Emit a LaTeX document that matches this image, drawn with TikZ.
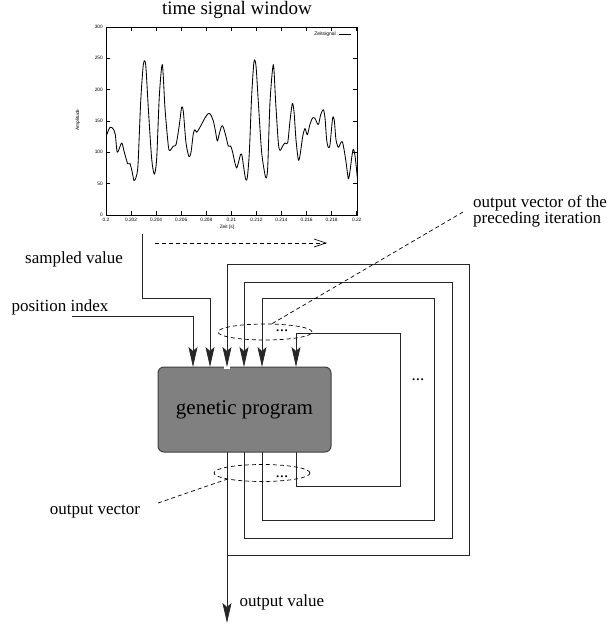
\documentclass[tikz,border=0pt]{standalone}
\usepackage{fontspec}
\setmainfont{Liberation Serif}
\setsansfont{Liberation Sans}
\usetikzlibrary{arrows.meta,shapes.geometric,calc}
\begin{document}
\begin{tikzpicture}[x=1pt,y=-1pt,
  wire/.style={line width=0.8pt, draw=black!85},
  inarrow/.style={wire, -{Stealth[length=20pt,width=9pt,inset=4pt]}},
  lbl/.style={font=\fontsize{17}{16}\selectfont, inner sep=0pt},
  dsh/.style={dash pattern=on 4pt off 3pt, line width=0.7pt},
  tick/.style={font=\fontsize{4.8}{6}\sffamily, inner sep=0pt}]
\useasboundingbox (0,0) rectangle (609,626);

% ---------- plot ----------
\node[font=\fontsize{19}{20}\selectfont, inner sep=0pt] (title) at (237,10) {time signal window};
\draw[line width=0.6pt] (106,27) rectangle (357,215);
\foreach \v [count=\i from 0] in {0,50,100,150,200,250,300} {
  \draw[line width=0.5pt] (106,215-0.6267*\v) -- ++(4,0);
  \draw[line width=0.5pt] (357,215-0.6267*\v) -- ++(-4,0);
  \node[tick, anchor=east] (yt\i) at (103,215-0.6267*\v) {\v};
}
\foreach \l [count=\i from 0] in {0.2,0.202,0.204,0.206,0.208,0.21,0.212,0.214,0.216,0.218,0.22} {
  \draw[line width=0.5pt] (106+25.07*\i,215) -- ++(0,-4);
  \draw[line width=0.5pt] (106+25.07*\i,27) -- ++(0,4);
  \node[tick] (xt\i) at (106+25.07*\i,220) {\l};
}
\node[tick, rotate=90] (ylab) at (78,120) {Amplitude};
\node[tick] (xlab) at (227,227) {Zeit [s]};
\node[tick, anchor=east, font=\fontsize{5}{6}\sffamily] (leg) at (336,34) {Zeitsignal};
\coordinate (lg1) at (339,34);
\coordinate (lg2) at (351,34);
\draw[line width=0.7pt] (lg1) -- (lg2);
\begin{scope}
\clip (106,27) rectangle (357,215);
\begin{scope}[shift={(60pt,-215pt)}, x=0.33333pt, y=0.6267pt]
\draw[line width=0.85pt, line join=round] plot[smooth, tension=0.45] coordinates {
(138,125) (150,140) (160,137) (166,128) (172,100) (185,115) (193,100) (203,82) (210,82) (216,70) (222,55) (228,60) (234,80) (242,180) (250,240) (257,240) (265,170) (275,90) (283,65) (290,90) (298,190) (307,240) (315,170) (325,110) (330,103) (340,110) (348,112) (357,140) (365,172) (370,165) (378,115) (387,93) (393,100) (400,130) (405,136) (410,132) (420,140) (435,155) (445,162) (452,160) (460,150) (466,135) (472,118) (478,130) (485,142) (490,140) (498,125) (505,110) (512,110) (518,100) (524,85) (530,75) (536,85) (542,97) (546,95) (550,80) (557,57) (562,60) (568,100) (575,190) (582,245) (588,238) (595,180) (605,100) (617,60) (623,75) (630,180) (640,240) (647,180) (655,115) (660,103) (668,110) (675,115) (683,115) (690,150) (697,178) (702,165) (708,120) (715,88) (720,95) (728,125) (735,138) (742,128) (750,145) (758,155) (765,154) (772,146) (776,145) (782,160) (790,168) (795,155) (800,120) (805,108) (810,112) (818,155) (823,150) (828,120) (835,108) (842,115) (847,117) (852,105) (858,85) (865,58) (870,70) (876,95) (880,105) (885,95) (892,60)};
\end{scope}
\end{scope}

% window shift arrow
\coordinate (wa) at (155,243);
\coordinate (wb) at (327,243);
\draw[dsh, -{Straight Barb[length=12pt,width=8pt]}] (wa) -- (wb);

% ---------- genetic program ----------
\node[draw=black!75, fill=black!50, rounded corners=6pt, line width=1pt,
      minimum width=173pt, minimum height=85pt, inner sep=0pt,
      font=\fontsize{21}{24}\selectfont] (gp) at (244.5,409.5) {genetic program};
\fill[white] (224,365.6) rectangle (230,369);

% input coordinates on box top
\coordinate (in0) at (193,367);
\coordinate (ins) at (210,367);
\coordinate (in1) at (227,367);
\coordinate (in2) at (244,367);
\coordinate (in3) at (262,367);
\coordinate (in4) at (296,367);
% outputs on box bottom
\coordinate (ob1) at (227,452);
\coordinate (ob2) at (244,452);
\coordinate (ob3) at (262,452);
\coordinate (ob4) at (296,452);

% labels
\node[lbl] (sv) at (74,259) {sampled value};
\node[lbl] (pi) at (60,307) {position index};
\node[lbl, align=left, anchor=west] (ovp) at (473,211) {output vector of the\\preceding iteration};
\node[lbl] (ov) at (95,512) {output vector};
\node[lbl] (oval) at (282,602) {output value};

% sampled value
\coordinate (sv0) at (142,234);
\coordinate (sv1) at (142,298);
\draw[inarrow] (sv0) -- (sv1) -| (ins);
% position index
\coordinate (pi0) at (72,316);
\draw[inarrow] (pi0) -| (in0);

% feedback loops
\draw[inarrow] (ob1) -- (227,555) -- (469,555) -- (469,264) -- (227,264) -- (in1);
\draw[inarrow] (ob2) -- (244,538) -- (452,538) -- (452,282) -- (244,282) -- (in2);
\draw[inarrow] (ob3) -- (262,520) -- (434,520) -- (434,298) -- (262,298) -- (in3);
\draw[inarrow] (ob4) -- (296,486) -- (400,486) -- (400,333) -- (296,333) -- (in4);

% output
\coordinate (out) at (227,623);
\draw[inarrow] (ob1) -- (out);

% dots
\node[lbl] (d1) at (282,331) {...};
\node[lbl] (d2) at (418,380) {...};
\node[lbl] (d3) at (282,477) {...};

% ellipses
\node[draw, ellipse, dsh, minimum width=94pt, minimum height=16pt, inner sep=0pt] (e1) at (265,332) {};
\node[draw, ellipse, dsh, minimum width=96pt, minimum height=17pt, inner sep=0pt] (e2) at (262,473) {};
\coordinate (c1) at (463,212);
\draw[dsh] (c1) -- (e1.50);
\coordinate (c2) at (158,503);
\draw[dsh] (c2) -- (e2.190);
\end{tikzpicture}
\end{document}
